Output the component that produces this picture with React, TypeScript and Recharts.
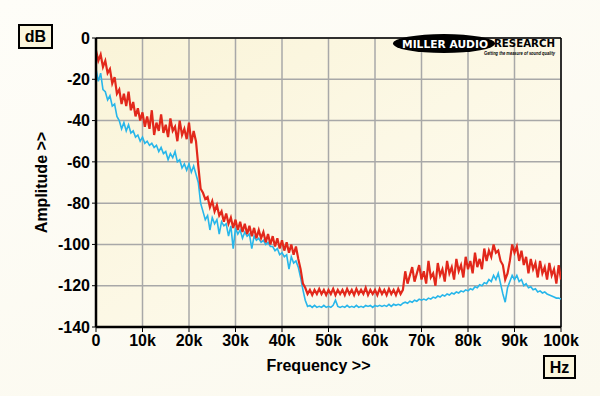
import { LineChart, Line, XAxis, YAxis, CartesianGrid, ReferenceLine, Label } from "recharts";

// spectrum sampled every 0.5 kHz, 0..100 kHz
const STEP_K = 0.5;
const xTicks = [0, 10, 20, 30, 40, 50, 60, 70, 80, 90, 100];
const yTicks = [0, -20, -40, -60, -80, -100, -120, -140];

const redDb = [
  -6, -11, -8, -14, -11, -17, -15, -22, -19, -27,
  -25, -32, -27, -33, -26, -35, -31, -38, -34, -40,
  -36, -43, -38, -44, -35, -47, -41, -45, -37, -46,
  -42, -48, -39, -45, -43, -50, -40, -47, -44, -49,
  -41, -51, -45, -50, -62, -73, -75, -78, -77, -82,
  -79, -84, -81, -86, -84, -89, -85, -90, -87, -92,
  -88, -93, -89, -94, -90, -95, -91, -96, -92, -97,
  -93, -97, -94, -99, -95, -100, -96, -101, -97, -102,
  -98, -103, -99, -104, -100, -105, -101, -107, -112, -119,
  -121, -124, -122, -124.5, -122, -124, -121.5, -124, -122, -124.5,
  -122, -124, -121.5, -124.5, -122, -124, -122, -124.5, -121.5, -124,
  -122, -124.5, -121.5, -124, -122, -124, -121, -124.5, -122, -124,
  -122, -124.5, -121.5, -124, -122, -124.5, -121.5, -124, -122, -124.5,
  -121.5, -124, -122, -113, -119, -115, -111, -118, -114, -110,
  -117, -113, -119, -108, -116, -114, -120, -109, -115, -112,
  -118, -108, -114, -111, -117, -107, -113, -110, -116, -106,
  -112, -108, -114, -104, -111, -107, -112, -102, -108, -103,
  -106, -100, -104, -103, -108, -110, -117, -114, -108, -100,
  -104, -101, -108, -103, -110, -106, -114, -107, -112, -109,
  -116, -108, -114, -111, -117, -109, -115, -112, -119, -110,
  -117,
];

const blueDb = [
  -15, -21, -17, -25, -26, -30, -28, -33, -32, -38,
  -40, -44, -41, -45, -42, -46, -45, -48, -47, -50,
  -48, -51, -50, -52, -51, -53, -52, -55, -53, -56,
  -55, -59, -56, -58, -55, -60, -59, -63, -61, -64,
  -61, -65, -62, -66, -70, -80, -84, -88, -86, -93,
  -87, -90, -88, -95, -89, -91, -90, -96, -91, -102,
  -92, -95, -93, -97, -94, -96, -95, -102, -96, -98,
  -97, -99, -98, -100, -99, -101, -101, -103, -102, -105,
  -104, -106, -105, -112, -106, -109, -108, -111, -116, -122,
  -127, -130, -129.5, -130.5, -129.5, -130.5, -130, -130.5, -129.5, -130.5,
  -130, -130.5, -129.5, -127, -130, -130.5, -130, -130.5, -129.5, -130.5,
  -130, -130.5, -129.5, -130.5, -130, -130.5, -129.5, -130, -129.5, -130.5,
  -129.5, -130, -129.5, -130, -129.5, -130, -129, -130, -129, -129.5,
  -129, -129.5, -128.5, -128, -128.5, -127.5, -128, -127, -127.5, -126.5,
  -127, -126.5, -127, -126, -126.5, -125.5, -126, -125, -125.5, -124.5,
  -125, -124, -124.5, -123.5, -124, -123, -123.5, -122.5, -123, -122,
  -122.5, -121.5, -122, -120.5, -121, -119.5, -120, -118.5, -119, -117,
  -118, -115, -117, -114, -119, -124, -128, -121, -118, -115,
  -117, -115, -118, -117, -120, -119, -121, -120.5, -122, -121.5,
  -123, -122.5, -123.5, -123, -124, -124.5, -125, -125.5, -126, -126,
  -126.5,
];

const data = redDb.map((r, i) => ({ f: i * STEP_K, red: r, blue: blueDb[i] }));

const tickStyle = { fill: "#000", fontSize: 16, fontWeight: 700, fontFamily: "Liberation Sans, Arial, sans-serif" };

export default function App() {
  return (
    <div
      style={{
        position: "absolute",
        left: 0,
        top: 0,
        width: 600,
        height: 396,
        background: "linear-gradient(160deg, #fefdf8 0%, #fbf9ee 100%)",
        fontFamily: "Liberation Sans, Arial, sans-serif",
      }}
    >
      <LineChart width={600} height={396} data={data} margin={{ top: 38, right: 39, bottom: 39, left: 0 }}>
        <defs>
          <linearGradient id="plotBg" x1="0" y1="0" x2="1" y2="1">
            <stop offset="0%" stopColor="#faf4d8" />
            <stop offset="100%" stopColor="#fefcf3" />
          </linearGradient>
        </defs>
        <CartesianGrid fill="url(#plotBg)" stroke="#a8a8a8" strokeWidth={1.5} />
        <XAxis
          dataKey="f"
          type="number"
          domain={[0, 100]}
          ticks={xTicks}
          height={30}
          tick={tickStyle}
          tickSize={5}
          tickMargin={3}
          axisLine={{ stroke: "#000", strokeWidth: 2.5 }}
          tickLine={{ stroke: "#000" }}
          tickFormatter={(v: number) => (v === 0 ? "0" : `${v}k`)}
          allowDataOverflow
        >
          <Label value="Frequency >>" position="insideBottom" offset={-14} dx={-10} style={tickStyle} />
        </XAxis>
        <YAxis
          type="number"
          domain={[-140, 0]}
          ticks={yTicks}
          width={96}
          tick={tickStyle}
          tickSize={4}
          tickMargin={2}
          axisLine={{ stroke: "#000", strokeWidth: 2.5 }}
          tickLine={{ stroke: "#000" }}
          allowDataOverflow
        >
          <Label
            value="Amplitude >>"
            angle={-90}
            position="insideLeft"
            offset={36}
            dx={5}
            style={{ ...tickStyle, textAnchor: "middle" }}
          />
        </YAxis>
        <ReferenceLine y={0} stroke="#000" strokeWidth={1.5} />
        <ReferenceLine x={100} stroke="#000" strokeWidth={1.5} />
        <Line dataKey="blue" stroke="#27b6ea" strokeWidth={1.6} dot={false} isAnimationActive={false} type="linear" />
        <Line dataKey="red" stroke="#e2281b" strokeWidth={2.2} dot={false} isAnimationActive={false} type="linear" />
      </LineChart>
      <svg width={600} height={396} style={{ position: "absolute", left: 0, top: 0, pointerEvents: "none" }}>
        <rect x={19} y={25} width={33} height={23} fill="#fbf6dd" stroke="#000" strokeWidth={2} />
        <text x={35.5} y={42} textAnchor="middle" fontSize={16} fontWeight={700} fill="#000">dB</text>
        <rect x={544} y={356} width={31} height={22} fill="#fbf6dd" stroke="#000" strokeWidth={2} />
        <text x={559.5} y={373} textAnchor="middle" fontSize={16} fontWeight={700} fill="#000">Hz</text>
        <ellipse cx={444} cy={43.5} rx={51} ry={9.5} fill="#000" />
        <text x={402} y={47.5} fontSize={11} fontWeight={700} fill="#fff" textLength={86} lengthAdjust="spacingAndGlyphs" fontFamily="DejaVu Sans, sans-serif">MILLER AUDIO</text>
        <text x={494} y={46.5} fontSize={10} fontWeight={700} fill="#000" textLength={61} lengthAdjust="spacingAndGlyphs" fontFamily="DejaVu Sans, sans-serif">RESEARCH</text>
        <text x={484} y={55} fontSize={4.5} fontWeight={700} fontStyle="italic" fill="#000" textLength={71} lengthAdjust="spacingAndGlyphs">Getting the measure of sound quality</text>
      </svg>
    </div>
  );
}
